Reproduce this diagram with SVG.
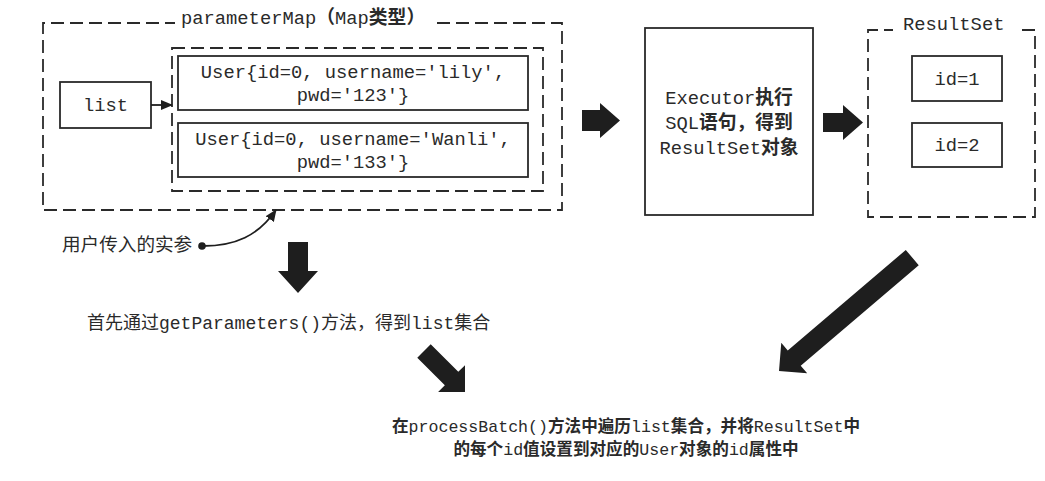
<svg xmlns="http://www.w3.org/2000/svg" width="1045" height="481" viewBox="0 0 1045 481">
<style>
.box{fill:none;stroke:#2a2a2a;stroke-width:1.8}
.dash{fill:none;stroke:#2a2a2a;stroke-width:1.8;stroke-dasharray:13 6}
.t{font-family:"Liberation Mono","Noto Sans CJK SC",monospace;font-size:18.8px;fill:#2a2a2a}
.c{text-anchor:middle}
.b{font-weight:bold}
.blk{fill:#1e1e1e}
.ln{fill:none;stroke:#1e1e1e;stroke-width:1.8}
</style>
<defs>
<marker id="ah" viewBox="0 0 12 10" refX="11" refY="5" markerWidth="12" markerHeight="10" markerUnits="userSpaceOnUse" orient="auto">
<path d="M0,0 L12,5 L0,10 Z" fill="#1e1e1e"/>
</marker>
</defs>
<rect width="1045" height="481" fill="#ffffff"/>

<g id="parameterMap">
<path class="dash" d="M437,23 H562 V210 H43 V23 H175"/>
<text class="t" x="181" y="24">parameterMap<tspan class="b">（</tspan>Map<tspan class="b">类型）</tspan></text>
</g>
<g id="userList">
<rect class="dash" x="172" y="48" width="371" height="143"/>
</g>
<g id="user1">
<rect class="box" x="178" y="56" width="350" height="54"/>
<text class="t c" x="353" y="78">User{id=0, username='lily',</text>
<text class="t c" x="353" y="101">pwd='123'}</text>
</g>
<g id="user2">
<rect class="box" x="178" y="123" width="350" height="54"/>
<text class="t c" x="353" y="145">User{id=0, username='Wanli',</text>
<text class="t c" x="353" y="168">pwd='133'}</text>
</g>
<g id="list">
<rect class="box" x="60" y="82" width="91" height="46"/>
<text class="t c" x="105.5" y="111">list</text>
</g>
<g id="argLabel">
<text class="t" x="62" y="251" style="font-size:18.6px">用户传入的实参</text>
</g>
<g id="executor">
<rect class="box" x="645" y="28" width="168" height="187"/>
<text class="t c" x="729" y="104">Executor<tspan class="b">执行</tspan></text>
<text class="t c" x="729" y="129">SQL<tspan class="b">语句，得到</tspan></text>
<text class="t c" x="729" y="154">ResultSet<tspan class="b">对象</tspan></text>
</g>
<g id="resultSet">
<path class="dash" d="M1022,30 H1035 V217 H868 V30 H893"/>
<text class="t" x="903" y="30">ResultSet</text>
</g>
<g id="id1">
<rect class="box" x="912" y="56" width="90" height="45"/>
<text class="t c" x="957" y="85">id=1</text>
</g>
<g id="id2">
<rect class="box" x="912" y="123" width="90" height="44"/>
<text class="t c" x="957" y="151">id=2</text>
</g>
<g id="step1">
<text class="t" x="87" y="329" style="font-size:18px">首先通过getParameters()方法，得到list集合</text>
</g>
<g id="step2">
<text class="t c" x="626" y="432" style="font-size:16.6px"><tspan class="b">在</tspan>processBatch()<tspan class="b">方法中遍历</tspan>list<tspan class="b">集合，并将</tspan>ResultSet<tspan class="b">中</tspan></text>
<text class="t c" x="626" y="455" style="font-size:16.6px"><tspan class="b">的每个</tspan>id<tspan class="b">值设置到对应的</tspan>User<tspan class="b">对象的</tspan>id<tspan class="b">属性中</tspan></text>
</g>

<g id="connectors">
<path class="ln" d="M151,105 H172" marker-end="url(#ah)"/>
<circle cx="202" cy="246" r="3.8" fill="#1e1e1e"/>
<path class="ln" d="M203,246 C235,246 258,236 276,210" marker-end="url(#ah)"/>
<polygon class="blk" points="582,110 600,110 600,103 620,120.5 600,138 600,131 582,131"/>
<polygon class="blk" points="823,113 843,113 843,105 863,122.5 843,140 843,132 823,132"/>
<polygon class="blk" points="288,242 308,242 308,271 318,271 298,293 278,271 288,271"/>
<polygon class="blk" transform="translate(465,392) rotate(45)" points="-58,-9.5 -19,-9.5 -19,-19 0,0 -19,19 -19,9.5 -58,9.5"/>
<polygon class="blk" transform="translate(779,371) rotate(139.6)" points="-175,-10 -20,-10 -20,-20 0,0 -20,20 -20,10 -175,10"/>
</g>
</svg>
